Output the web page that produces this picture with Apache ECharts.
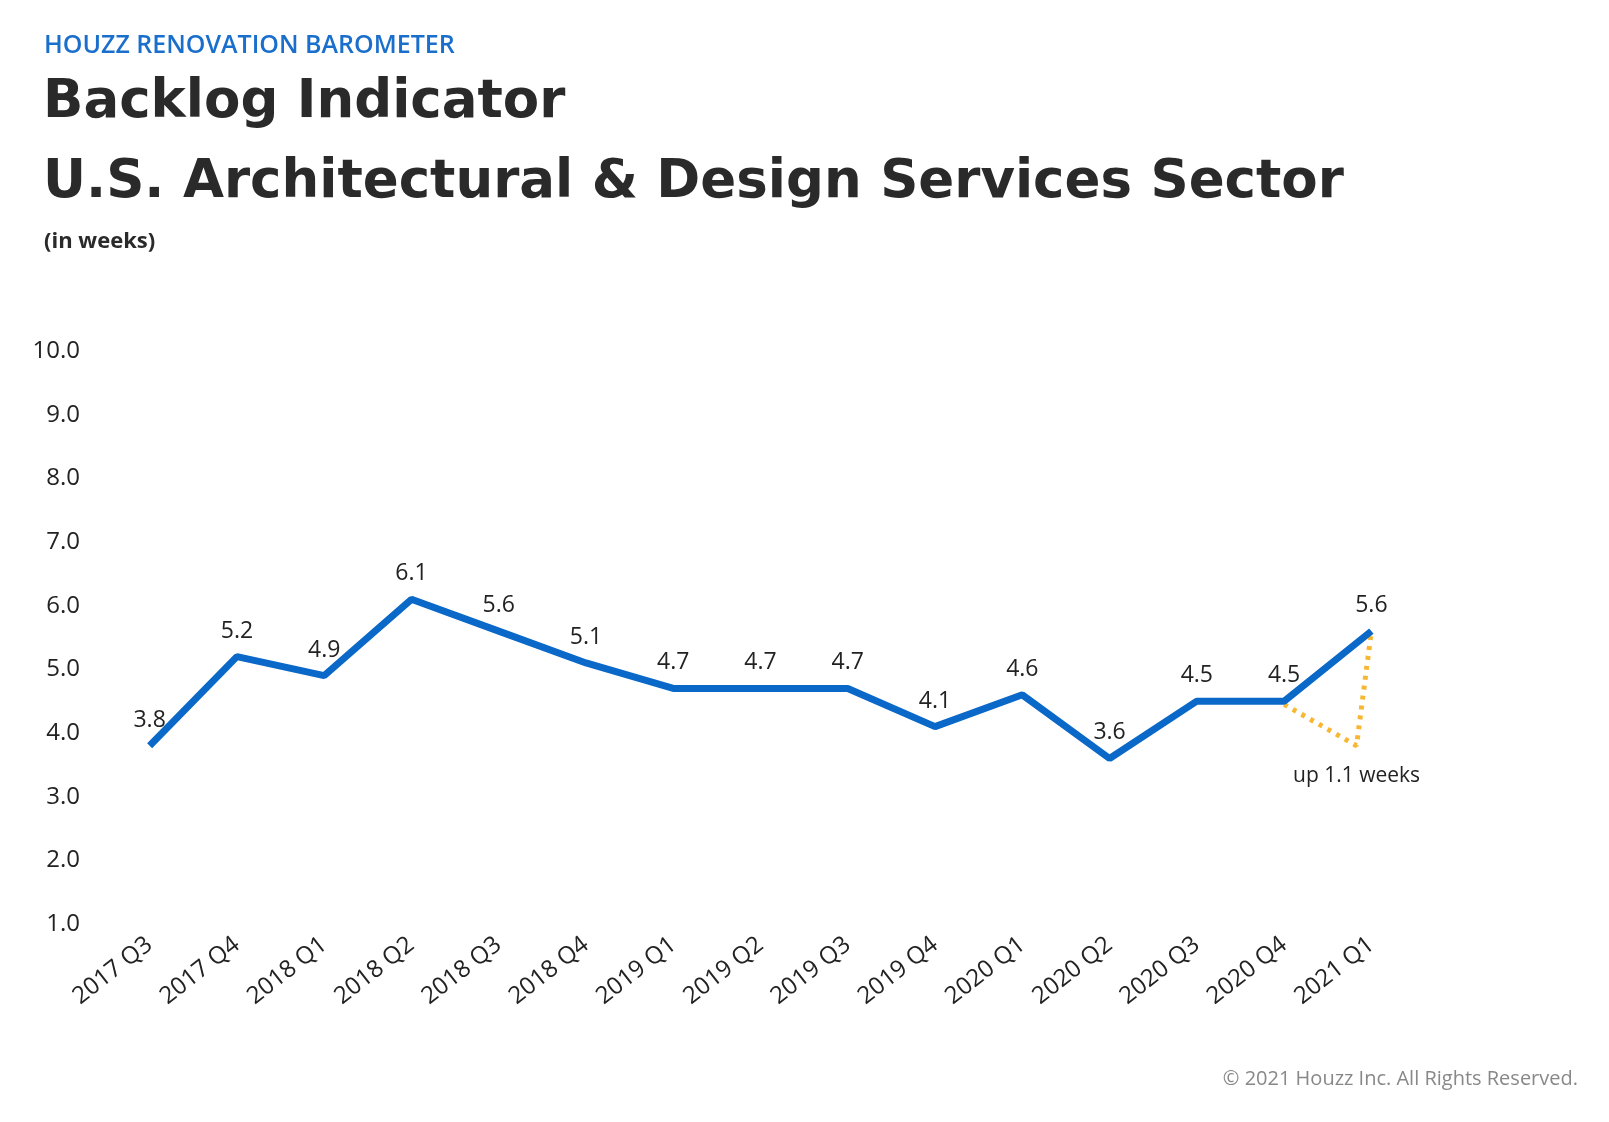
<!DOCTYPE html>
<html><head><meta charset="utf-8">
<script src="https://cdn.jsdelivr.net/npm/echarts@6/dist/echarts.min.js"></script>
<style>html,body{margin:0;background:#fff}#box{width:1609px;height:1122px}</style>
</head><body><div id="box"></div>
<script>
var quarters = ['2017 Q3','2017 Q4','2018 Q1','2018 Q2','2018 Q3','2018 Q4','2019 Q1','2019 Q2','2019 Q3','2019 Q4','2020 Q1','2020 Q2','2020 Q3','2020 Q4','2021 Q1'];
var backlog = [3.8, 5.2, 4.9, 6.1, 5.6, 5.1, 4.7, 4.7, 4.7, 4.1, 4.6, 3.6, 4.5, 4.5, 5.6];
var changeMarks = [[13, 4.45], [13.83, 3.8], [14, 5.6]];
var changeNote = 'up 1.1 weeks';
var yTicks = [1, 10, 1];

var font = '"Open Sans", sans-serif';
var headFont = '"DejaVu Sans", sans-serif';
var myChart = echarts.init(document.getElementById('box'));
var option = {
    animation: false,
    title: [
        { text: 'HOUZZ RENOVATION BAROMETER', left: 39, top: 28, textStyle: { color: '#1a6fcc', fontSize: 25, fontWeight: 600, fontFamily: font } },
        { text: 'Backlog Indicator', left: 38, top: 72, textStyle: { color: '#2a2a2a', fontSize: 53, fontWeight: 'bold', fontFamily: headFont } },
        { text: 'U.S. Architectural & Design Services Sector', left: 38, top: 152, textStyle: { color: '#2a2a2a', fontSize: 53, fontWeight: 'bold', fontFamily: headFont } },
        { text: '(in weeks)', left: 39, top: 226, textStyle: { color: '#2a2a2a', fontSize: 22, fontWeight: 'bold', fontFamily: font } },
        { text: '© 2021 Houzz Inc. All Rights Reserved.', right: 26, top: 1064, textStyle: { color: '#888', fontSize: 20, fontWeight: 'normal', fontFamily: font } }
    ],
    grid: { left: 106, right: 194, top: 351, bottom: 198 },
    xAxis: [{
        type: 'category',
        data: quarters,
        axisLine: { show: false },
        axisTick: { show: false },
        axisLabel: { rotate: 38, fontSize: 24, color: '#222', fontFamily: font, margin: 18 }
    }, {
        type: 'value', min: -0.5, max: 14.5, show: false
    }],
    yAxis: {
        type: 'value', min: yTicks[0], max: yTicks[1], interval: yTicks[2],
        splitLine: { show: false },
        axisLine: { show: false },
        axisTick: { show: false },
        axisLabel: { fontSize: 24, color: '#222', fontFamily: font, margin: 26, formatter: function (v) { return v.toFixed(1); } }
    },
    series: [{
        type: 'line',
        data: backlog,
        symbol: 'circle',
        symbolSize: 0.1,
        showSymbol: true,
        lineStyle: { color: '#0a68c8', width: 7 },
        itemStyle: { color: '#0a68c8' },
        label: { show: true, position: 'top', distance: 14, fontSize: 23, color: '#222', fontFamily: font, formatter: function (p) { return p.value.toFixed(1); } },
        z: 3
    }, {
        type: 'line',
        xAxisIndex: 1,
        data: changeMarks,
        symbol: 'circle',
        symbolSize: 0.1,
        showSymbol: true,
        lineStyle: { color: '#f7b733', width: 5, type: [4, 6] },
        itemStyle: { color: '#f7b733' },
        label: { show: true, position: 'bottom', distance: 20, fontSize: 21, color: '#222', fontFamily: font,
            formatter: function (p) { return p.dataIndex === 1 ? changeNote : ''; } },
        z: 2
    }]
};
myChart.setOption(option);
</script>
</body></html>
